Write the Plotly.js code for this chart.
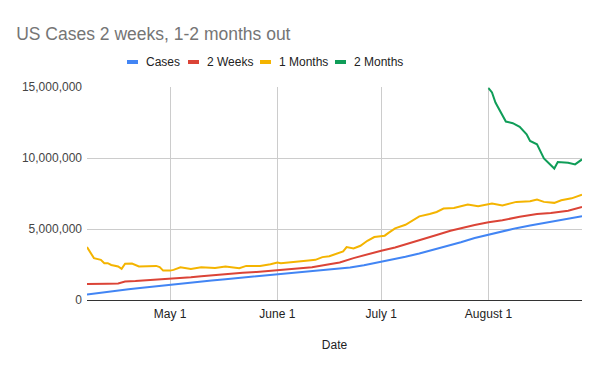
<!DOCTYPE html>
<html>
<head>
<meta charset="utf-8">
<script src="https://cdn.plot.ly/plotly-3.0.1.min.js"></script>
<style>html,body{margin:0;padding:0;background:#fff}#chart{width:600px;height:371px}</style>
</head>
<body>
<div id="chart"></div>
<script>
// Cumulative US cases (millions)
const casesDates = ['2020-04-07','2020-04-11','2020-04-15','2020-04-19','2020-04-23','2020-04-27','2020-05-01','2020-05-05','2020-05-09','2020-05-13','2020-05-17','2020-05-21','2020-05-25','2020-05-29','2020-06-02','2020-06-06','2020-06-10','2020-06-14','2020-06-18','2020-06-22','2020-06-26','2020-06-30','2020-07-04','2020-07-08','2020-07-12','2020-07-16','2020-07-20','2020-07-24','2020-07-28','2020-08-01','2020-08-05','2020-08-09','2020-08-13','2020-08-17','2020-08-21','2020-08-25','2020-08-28'];
const casesVals = [0.38,0.52,0.63,0.75,0.86,0.97,1.09,1.19,1.29,1.38,1.47,1.56,1.65,1.74,1.82,1.91,1.99,2.08,2.18,2.29,2.45,2.63,2.83,3.04,3.28,3.53,3.80,4.07,4.36,4.61,4.84,5.06,5.25,5.42,5.60,5.76,5.90];

const weeksDates = ['2020-04-07','2020-04-10','2020-04-13','2020-04-16','2020-04-18','2020-04-21','2020-04-24','2020-04-27','2020-04-30','2020-05-03','2020-05-07','2020-05-10','2020-05-14','2020-05-18','2020-05-22','2020-05-26','2020-05-30','2020-06-03','2020-06-07','2020-06-11','2020-06-16','2020-06-19','2020-06-23','2020-06-27','2020-07-01','2020-07-05','2020-07-09','2020-07-13','2020-07-17','2020-07-21','2020-07-24','2020-07-28','2020-08-01','2020-08-05','2020-08-10','2020-08-15','2020-08-19','2020-08-24','2020-08-28'];
const weeksVals = [1.13,1.12,1.15,1.17,1.30,1.33,1.38,1.42,1.45,1.52,1.60,1.68,1.77,1.85,1.92,1.98,2.05,2.12,2.20,2.30,2.52,2.64,2.95,3.22,3.47,3.70,3.98,4.28,4.58,4.88,5.07,5.28,5.47,5.61,5.87,6.06,6.13,6.29,6.55];

const monthDates = ['2020-04-07','2020-04-09','2020-04-11','2020-04-12','2020-04-13','2020-04-14','2020-04-16','2020-04-17','2020-04-18','2020-04-20','2020-04-22','2020-04-24','2020-04-27','2020-04-28','2020-04-29','2020-05-01','2020-05-02','2020-05-04','2020-05-07','2020-05-10','2020-05-14','2020-05-17','2020-05-20','2020-05-21','2020-05-23','2020-05-27','2020-05-30','2020-06-01','2020-06-02','2020-06-06','2020-06-10','2020-06-12','2020-06-14','2020-06-16','2020-06-19','2020-06-20','2020-06-21','2020-06-23','2020-06-25','2020-06-27','2020-06-29','2020-07-02','2020-07-03','2020-07-05','2020-07-08','2020-07-12','2020-07-15','2020-07-17','2020-07-19','2020-07-22','2020-07-26','2020-07-29','2020-08-02','2020-08-05','2020-08-09','2020-08-13','2020-08-15','2020-08-17','2020-08-20','2020-08-22','2020-08-25','2020-08-28'];
const monthVals = [3.73,2.95,2.83,2.59,2.59,2.47,2.36,2.19,2.55,2.57,2.36,2.36,2.40,2.32,2.07,2.07,2.12,2.31,2.19,2.31,2.26,2.36,2.29,2.24,2.40,2.40,2.52,2.64,2.59,2.71,2.78,2.83,3.02,3.08,3.30,3.42,3.73,3.63,3.82,4.17,4.43,4.53,4.71,5.04,5.30,5.89,6.06,6.20,6.44,6.48,6.72,6.60,6.79,6.65,6.91,6.95,7.07,6.91,6.84,7.02,7.16,7.42];

const twoMonthDates = ['2020-08-01','2020-08-02','2020-08-03','2020-08-05','2020-08-06','2020-08-08','2020-08-10','2020-08-12','2020-08-13','2020-08-15','2020-08-17','2020-08-20','2020-08-21','2020-08-24','2020-08-26','2020-08-28'];
const twoMonthVals = [14.92,14.62,13.91,13.08,12.57,12.45,12.19,11.67,11.20,10.96,9.97,9.26,9.71,9.67,9.55,9.90];

const seriesNames = ['Cases','2 Weeks','1 Months','2 Months'];
const colors = ['#4285F4','#DB4437','#F4B400','#0F9D58'];
const xTickVals = ['2020-05-01','2020-06-01','2020-07-01','2020-08-01'];
const xTickText = ['May 1','June 1','July 1','August 1'];
const yTickVals = [0,5000000,10000000,15000000];

const toAbs = a => a.map(v => v * 1e6);
const xs = [casesDates, weeksDates, monthDates, twoMonthDates];
const ys = [casesVals, weeksVals, monthVals, twoMonthVals];

const data = seriesNames.map((n, i) => ({
  type: 'scatter', mode: 'lines', name: n,
  x: xs[i], y: toAbs(ys[i]),
  line: {color: colors[i], width: 2}
}));

// Compact legend (Google-Charts style): swatch + label, laid out in pixels
const W = 600, H = 371, M = {l: 87, r: 18, t: 87, b: 71};
const pw = W - M.l - M.r, ph = H - M.t - M.b;
const px2x = p => (p - M.l) / pw;
const py2y = p => (H - M.b - p) / ph;
const legendSwatchX = [127, 188, 260, 335];
const legendY = 62;
const shapes = [], annotations = [];
seriesNames.forEach((n, i) => {
  shapes.push({type: 'rect', xref: 'paper', yref: 'paper',
    x0: px2x(legendSwatchX[i]), x1: px2x(legendSwatchX[i] + 11),
    y0: py2y(legendY + 2), y1: py2y(legendY - 2),
    fillcolor: colors[i], line: {width: 0}});
  annotations.push({xref: 'paper', yref: 'paper', x: px2x(legendSwatchX[i] + 17), y: py2y(legendY),
    xanchor: 'left', yanchor: 'middle', text: n, showarrow: false,
    font: {size: 12, color: '#222'}});
});

const layout = {
  width: W, height: H,
  margin: M,
  paper_bgcolor: '#fff', plot_bgcolor: '#fff',
  font: {family: 'Arial, "Liberation Sans", sans-serif', size: 12, color: '#222'},
  title: {text: 'US Cases 2 weeks, 1-2 months out', x: 0.027, xanchor: 'left', y: 0.91, yanchor: 'middle',
          font: {size: 17.5, color: '#757575', family: 'Arial, "Liberation Sans", sans-serif'}},
  showlegend: false,
  shapes: shapes, annotations: annotations,
  xaxis: {type: 'date', range: ['2020-04-07', '2020-08-28'],
          tickvals: xTickVals, ticktext: xTickText, ticks: '', ticklabelstandoff: 3,
          showgrid: true, gridcolor: '#cccccc', gridwidth: 1,
          showline: true, linecolor: '#333', linewidth: 1,
          tickfont: {size: 12, color: '#222'},
          title: {text: 'Date', font: {size: 12, color: '#222'}, standoff: 20},
          zeroline: false},
  yaxis: {range: [0, 15000000], tickvals: yTickVals, tickformat: ',d',
          showgrid: true, gridcolor: '#cccccc', gridwidth: 1,
          zeroline: false, ticks: '', ticklen: 0, ticklabelstandoff: 4,
          tickfont: {size: 12, color: '#444'}, automargin: false}
};

Plotly.newPlot('chart', data, layout, {displayModeBar: false, staticPlot: true});
</script>
</body>
</html>
